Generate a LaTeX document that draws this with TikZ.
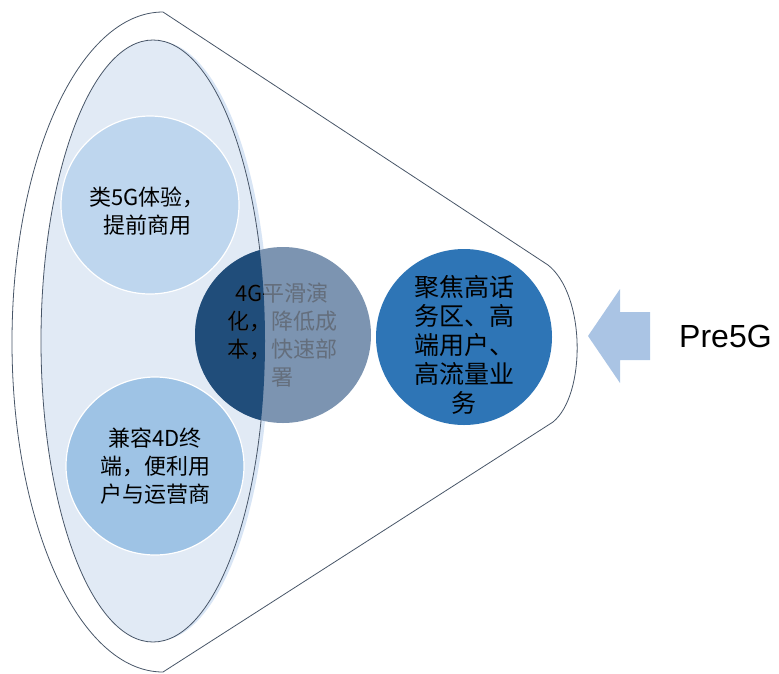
\documentclass[tikz,border=0pt]{standalone}
\usepackage{fontspec}
\setmainfont{Liberation Sans}
\newfontfamily\cjk{Noto Sans CJK SC}
\definecolor{edge}{RGB}{72,86,104}
\definecolor{ellfill}{RGB}{225,234,245}
\definecolor{halo}{RGB}{216,229,245}
\definecolor{topc}{RGB}{190,214,238}
\definecolor{botc}{RGB}{158,195,229}
\definecolor{midgray}{RGB}{124,148,177}
\definecolor{middark}{RGB}{32,77,122}
\definecolor{rightc}{RGB}{46,117,182}
\definecolor{arrowc}{RGB}{170,196,228}
\definecolor{softtext}{RGB}{100,110,124}
\begin{document}
\begin{tikzpicture}[x=1pt,y=-1pt,
  bubble/.style={circle, minimum size=178pt, inner sep=0pt, draw=white, line width=1.2pt},
  cjklabel/.style={align=center, inner sep=0pt, font=\cjk\fontsize{22}{28}\selectfont, text=black},
  bigcjk/.style={align=center, inner sep=0pt, font=\cjk\fontsize{25}{29}\selectfont, text=black},
  outline/.style={draw=edge, line width=0.8pt}
]
\useasboundingbox (0,0) rectangle (779,673);

% funnel body
\path[outline, fill=white] (163,12) .. controls (79,12) and (12,160) .. (12,342)
  .. controls (12,524) and (79,672) .. (163,672) -- (553,422)
  .. controls (586,395) and (586,295) .. (548,265) -- cycle;

% inner ellipse with a soft halo on its right
\fill[halo] (157,341) ellipse [x radius=112, y radius=300];
\path[outline, fill=ellfill] (153,341) ellipse [x radius=112, y radius=301];

% bubbles
\node[bubble, fill=topc] (c1) at (150,205) {};
\node[bubble, fill=botc] (c2) at (155,466) {};
\node[bubble, fill=midgray, draw=none, minimum size=176pt] (c3) at (283,335) {};
\begin{scope}
  \clip (153,341) ellipse [x radius=112, y radius=301];
  \fill[middark] (c3.center) circle [radius=88];
\end{scope}
\node[bubble, fill=rightc, draw=none, minimum size=176pt] (c4) at (464,337) {};

% texts
\node[cjklabel] (t1) at (147,211) {类5G体验，\\提前商用};
\node[cjklabel] (t2) at (155,466) {兼容4D终\\端，便利用\\户与运营商};
\node[cjklabel, text=softtext] (t3) at (282,335) {4G平滑演\\化，降低成\\本，快速部\\署};
\begin{scope}
  \clip (153,341) ellipse [x radius=112, y radius=301];
  \node[cjklabel] (t3dark) at (282,335) {4G平滑演\\化，降低成\\本，快速部\\署};
\end{scope}
\node[bigcjk] (t4) at (464,345) {聚焦高话\\务区、高\\端用户、\\高流量业\\务};

% block arrow and its label
\fill[arrowc] (588,336) -- (620,289) -- (620,312) -- (650,312) -- (650,360)
  -- (620,360) -- (620,383) -- cycle;
\node[anchor=west, inner sep=0pt, font=\fontsize{32}{38}\selectfont] (pre) at (679,336) {Pre5G};
\end{tikzpicture}
\end{document}
